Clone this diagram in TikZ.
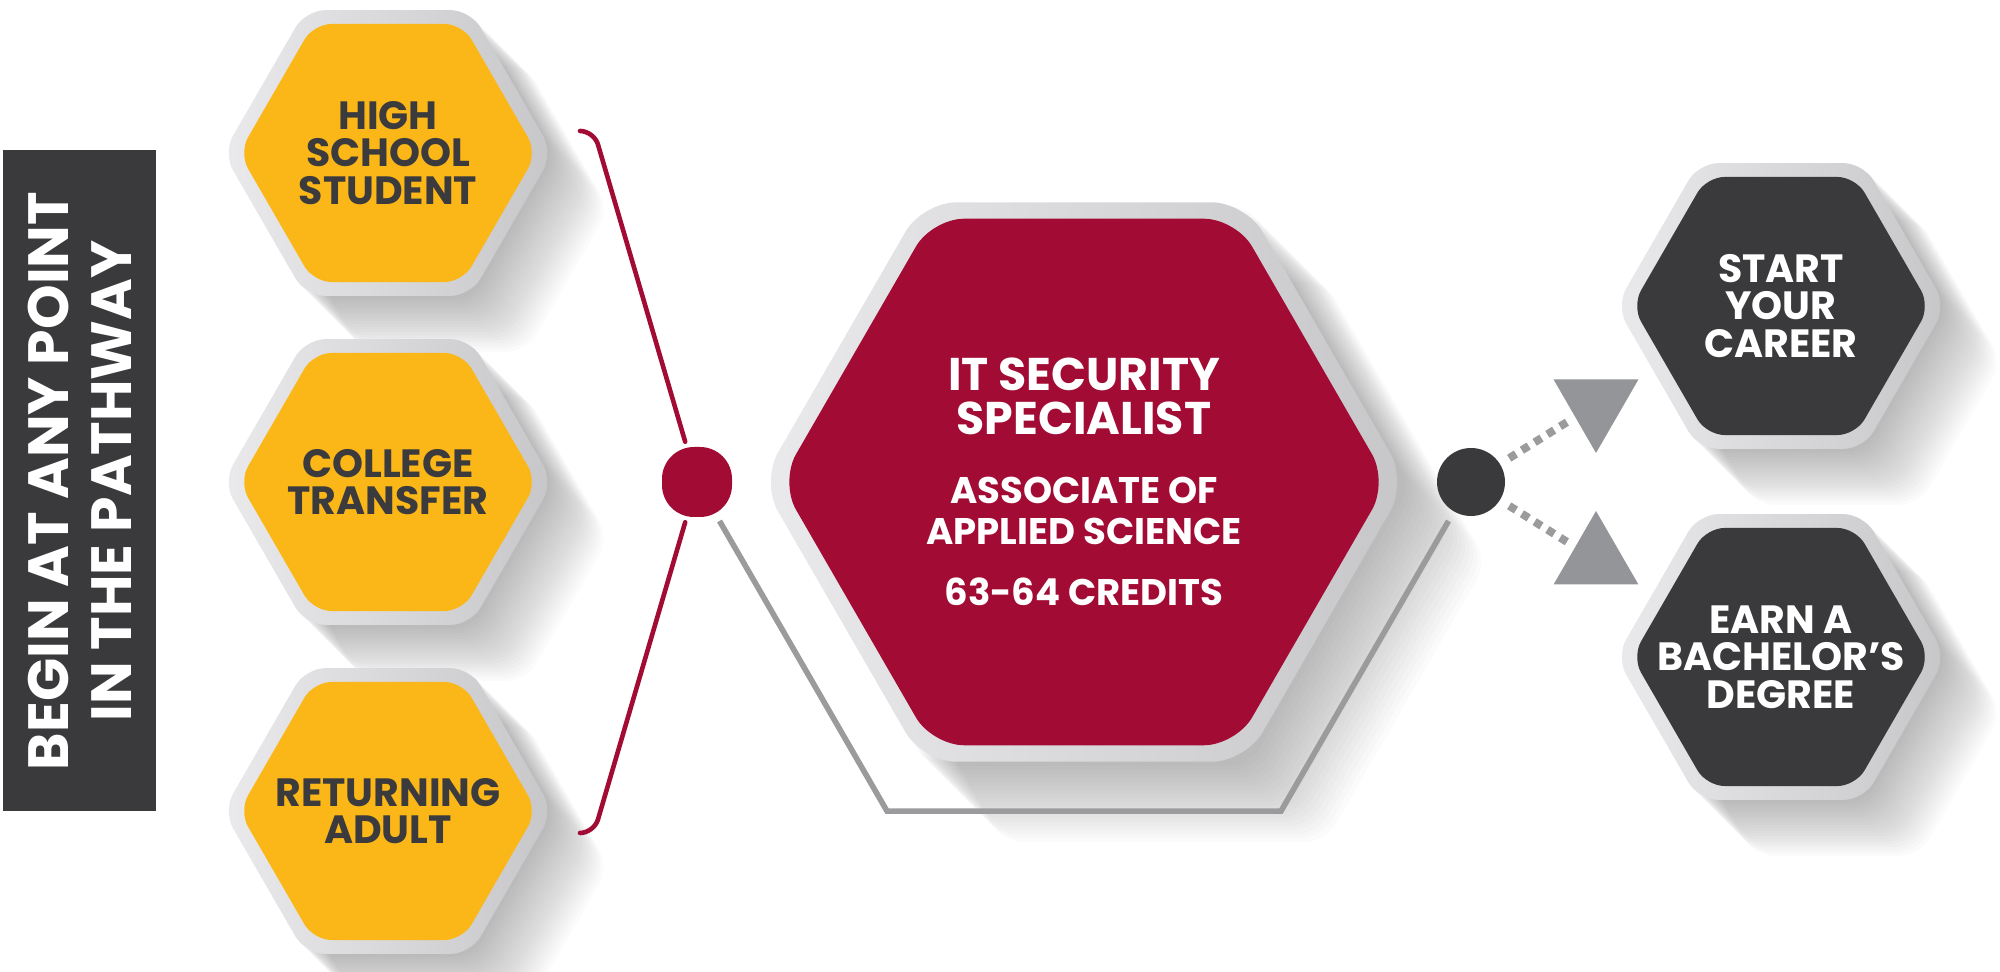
\documentclass[tikz,border=0pt]{standalone}
\usepackage{fontspec}
\setmainfont{Poppins}
\usetikzlibrary{shapes.geometric,calc}
\definecolor{hexyellow}{HTML}{FBB618}
\definecolor{hexred}{HTML}{A20B34}
\definecolor{hexdark}{HTML}{3A3A3C}
\definecolor{textdark}{HTML}{3B3B3E}
\definecolor{linegray}{HTML}{9B9B9D}
\definecolor{trigray}{HTML}{939598}
\definecolor{rimlight}{HTML}{EAEAEC}
\definecolor{rimdark}{HTML}{C7C7C9}
\begin{document}
\begin{tikzpicture}[>=latex,line join=bevel,
  hexshape/.style={regular polygon,regular polygon sides=6,inner sep=0pt,outer sep=0pt},
  rim/.style={hexshape,rounded corners=10bp,left color=rimlight,right color=rimdark},
  hexshadow/.style={hexshape,rounded corners=10bp,fill=black,fill opacity=0.015},
  hexbox/.style={hexshape,rounded corners=9bp,minimum size=149bp},
  yellowhex/.style={hexbox,fill=hexyellow},
  darkhex/.style={hexbox,fill=hexdark},
  redhex/.style={hexshape,rounded corners=16bp,minimum size=304bp,fill=hexred},
  hextext/.style={align=center,inner sep=0pt,font=\bfseries\fontsize{19.8}{18.9}\selectfont},
  yellowtext/.style={hextext,text=textdark},
  darktext/.style={hextext,text=white},
  redtext/.style={align=center,inner sep=0pt,text=white,font=\bfseries\fontsize{18.6}{20.5}\selectfont},
  bigline/.style={font=\bfseries\fontsize{23}{21}\selectfont},
  barbox/.style={fill=hexdark,text=white,rotate=90,minimum width=330.5bp,minimum height=76.5bp,inner sep=0pt,align=center,font=\bfseries\fontsize{28.5}{31.5}\selectfont},
  reddot/.style={rectangle,rounded corners=16bp,minimum size=35bp,inner sep=0pt,fill=hexred},
  darkdot/.style={circle,minimum size=34bp,inner sep=0pt,fill=hexdark},
  tribox/.style={regular polygon,regular polygon sides=3,minimum size=49bp,inner sep=0pt,fill=trigray},
  redline/.style={draw=hexred,line width=2.3bp,line cap=round},
  grayline/.style={draw=linegray,line width=2.8bp,line join=miter},
  dashline/.style={draw=linegray,line width=4bp,dash pattern=on 4bp off 3.5bp},
]
\useasboundingbox (0bp,0bp) rectangle (1000bp,486bp);
%% long soft shadows
\foreach \x/\y/\s/\l in {194/409.5/165/1.4,194/245/165/1.4,194/80.5/165/1.4,542/245/323/2,890.5/333/165/1.4,890.5/157.5/165/1.4}{
  \foreach \d [evaluate=\d as \o using \d*\l] in {1,...,20}
    \node[hexshadow,minimum size=\s bp,xshift=\o bp,yshift=-\o bp] at (\x bp,\y bp) {};
}
%% side bar
\node (pathway) at (39.75bp,245.5bp) [barbox] {BEGIN AT ANY POINT\\IN THE PATHWAY};
%% starting points
\node (hs_rim) at (194bp,409.5bp) [rim,minimum size=165bp] {};
\node (hs) at (194bp,409.5bp) [yellowhex,label={[yellowtext]center:HIGH\\SCHOOL\\STUDENT}] {};
\node (ct_rim) at (194bp,245bp) [rim,minimum size=165bp] {};
\node (ct) at (194bp,245bp) [yellowhex,label={[yellowtext]center:COLLEGE\\TRANSFER}] {};
\node (ra_rim) at (194bp,80.5bp) [rim,minimum size=165bp] {};
\node (ra) at (194bp,80.5bp) [yellowhex,label={[yellowtext]center:RETURNING\\ADULT}] {};
%% program
\node (its_rim) at (542bp,245bp) [rim,rounded corners=17bp,minimum size=323bp] {};
\node (its) at (542bp,245bp) [redhex,label={[redtext]center:{\fontsize{23}{21}\selectfont IT SECURITY}\\[1.5bp]{\fontsize{23}{21}\selectfont SPECIALIST}\\[14bp]ASSOCIATE OF\\APPLIED SCIENCE\\[10.5bp]63-64 CREDITS}] {};
%% outcomes
\node (sc_rim) at (890.5bp,333bp) [rim,minimum size=165bp] {};
\node (sc) at (890.5bp,333bp) [darkhex,label={[darktext]center:START\\YOUR\\CAREER}] {};
\node (bd_rim) at (890.5bp,157.5bp) [rim,minimum size=165bp] {};
\node (bd) at (890.5bp,157.5bp) [darkhex,label={[darktext]center:EARN A\\BACHELOR’S\\DEGREE}] {};
%% joints
\node (rdot) at (348.5bp,245bp) [reddot] {};
\node (ddot) at (735.5bp,245bp) [darkdot] {};
\node (tri_top) at (798bp,284bp) [tribox,shape border rotate=180] {};
\node (tri_bot) at (798bp,206bp) [tribox] {};
\coordinate (br_top) at (290bp,420.5bp);
\coordinate (hook_top) at (297bp,420.5bp);
\coordinate (br_bot) at (290bp,69.5bp);
\coordinate (hook_bot) at (297bp,69.5bp);
%
\draw [redline,rounded corners=7bp,shorten >=21bp] (br_top) -- (hook_top) -- (rdot.center);
\draw [redline,rounded corners=7bp,shorten >=21bp] (br_bot) -- (hook_bot) -- (rdot.center);
\draw [grayline] ($(rdot)+(-60:22.5bp)$) -- ($(rdot)+(-60:190bp)$) -- ($(ddot)+(-120:190bp)$) -- ($(ddot)+(-120:22.5bp)$);
\draw [dashline] ($(ddot)!22.5bp!(tri_top)$) -- ($(tri_top)!17bp!(ddot)$);
\draw [dashline] ($(ddot)!22.5bp!(tri_bot)$) -- ($(tri_bot)!17bp!(ddot)$);
%
\end{tikzpicture}
\end{document}
